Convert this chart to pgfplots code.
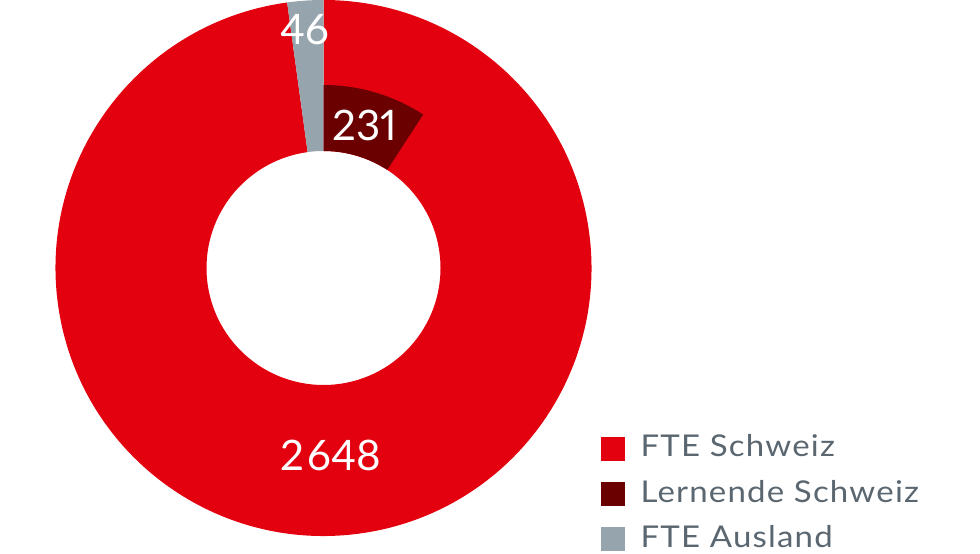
\documentclass[border=0pt]{standalone}
\usepackage{fontspec}
\setmainfont{Lato}[Numbers=Proportional]
\newfontfamily\legfont{Lato}[FakeStretch=1.1, LetterSpace=4]
\usepackage{pgfplots}
\pgfplotsset{compat=1.18}
\definecolor{fteCH}{HTML}{E3000F}
\definecolor{lernCH}{HTML}{6B0000}
\definecolor{fteAus}{HTML}{96A4AE}
\definecolor{legtext}{HTML}{5B6770}

% values: FTE Schweiz 2648, Lernende Schweiz 231, FTE Ausland 46
% slice sweeps (deg) as drawn in the chart, clockwise from 12 o'clock
\def\cx{323.5}\def\cy{283}
\def\rin{117}\def\rout{268}\def\rlern{183}
\def\aAus{7.8}\def\aLern{33}

% colour, from angle, to angle, inner radius, outer radius
\newcommand\ringslice[5]{%
  \fill[#1] (axis cs:{\cx+#5*cos(#2)},{\cy+#5*sin(#2)})
    arc[start angle=#2, end angle=#3, radius=#5pt]
    -- (axis cs:{\cx+#4*cos(#3)},{\cy+#4*sin(#3)})
    arc[start angle=#3, end angle=#2, radius=#4pt] -- cycle;}

\begin{document}
\begin{tikzpicture}
\begin{axis}[
    x=1pt, y=1pt,
    xmin=0, xmax=980, ymin=0, ymax=551,
    hide axis, clip=false,
    legend cell align=left,
    legend image code/.code={\fill[#1] (0pt,-12.3pt) rectangle (23pt,10.7pt);},
    legend style={draw=none, fill=none, inner sep=0pt,
        at={(axis cs:601,116.3)}, anchor=north west,
        column sep=16pt, row sep=20.3pt,
        font=\legfont\fontsize{30}{30}\selectfont, text=legtext,
        nodes={inner sep=0pt, text height=22pt, text depth=3pt}},
]
\path (axis cs:0,0) rectangle (axis cs:980,551);
\ringslice{fteCH}{90+\aAus}{450}{\rin}{\rout}
\ringslice{fteAus}{90}{90+\aAus}{\rin}{\rout}
\ringslice{lernCH}{90-\aLern}{90}{\rin}{\rlern}

\node[white, inner sep=0pt, font=\fontsize{42}{42}\selectfont] at (axis cs:305,521) {46};
\node[white, inner sep=0pt, font=\fontsize{42}{42}\selectfont] at (axis cs:365,426) {231};
\node[white, inner sep=0pt, font=\fontsize{42}{42}\selectfont] at (axis cs:331,96) {2\hspace{3pt}648};

\addlegendimage{fteCH}
\addlegendentry{FTE Schweiz}
\addlegendimage{lernCH}
\addlegendentry{Lernende Schweiz}
\addlegendimage{fteAus}
\addlegendentry{FTE Ausland}
\end{axis}
\end{tikzpicture}
\end{document}
